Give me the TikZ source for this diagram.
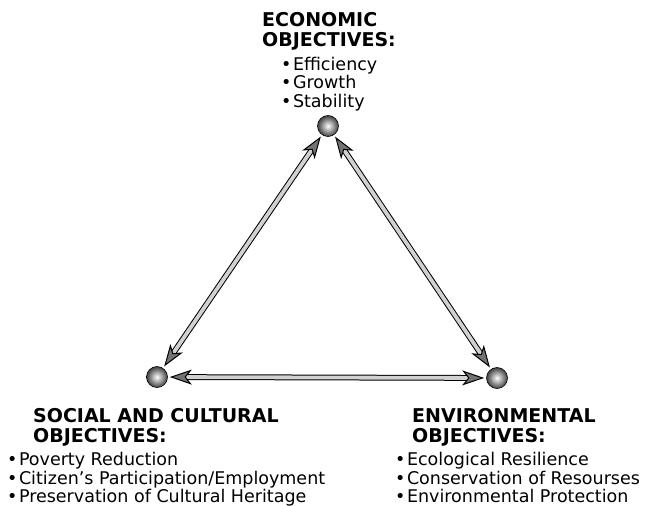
\documentclass[tikz,border=0pt]{standalone}
\usepackage{fontspec}
\setmainfont{DejaVu Sans}
\usetikzlibrary{arrows.meta}
\newcommand{\itm}{•\kern1.5pt}
\tikzset{
  ball/.style={circle,draw=black,line width=0.6pt,minimum size=21pt,inner sep=0pt,
    inner color=white,outer color=black!75},
  tube/.style={draw=black,line width=1pt,double=black!18,double distance=3.8pt,
    {Stealth[length=22pt,width=15pt,inset=6pt,fill=black!55]}-{Stealth[length=22pt,width=15pt,inset=6pt,fill=black!55]},
    shorten <=2pt,shorten >=2pt},
  head/.style={anchor=north west,align=left,font=\fontsize{19}{20}\selectfont\bfseries,inner sep=0pt},
  items/.style={anchor=north west,align=left,font=\fontsize{17.5}{18.5}\selectfont,inner sep=0pt}
}
\begin{document}
\begin{tikzpicture}[x=1pt,y=-1pt]
  \useasboundingbox[clip] (0,0) rectangle (648,506);
  % the three goals
  \node[ball] (eco) at (328,126) {};
  \node[ball] (soc) at (157,377) {};
  \node[ball] (env) at (497,378) {};
  % links between them
  \draw[tube] (soc) -- (eco);
  \draw[tube] (env) -- (eco);
  \draw[tube] (soc) -- (env);
  % labels
  \node[head] (ecohead) at (262,12) {ECONOMIC\\OBJECTIVES:};
  \node[items] (ecolist) at (281,57) {\itm Efficiency\\\itm Growth\\\itm Stability};
  \node[head] (sochead) at (33,408) {SOCIAL AND CULTURAL\\OBJECTIVES:};
  \node[items] (soclist) at (7,452) {\itm Poverty Reduction\\\itm Citizen’s Participation/Employment\\\itm Preservation of Cultural Heritage};
  \node[head] (envhead) at (412,408) {ENVIRONMENTAL\\OBJECTIVES:};
  \node[items] (envlist) at (395,452) {\itm Ecological Resilience\\\itm Conservation of Resourses\\\itm Environmental Protection};
\end{tikzpicture}
\end{document}
